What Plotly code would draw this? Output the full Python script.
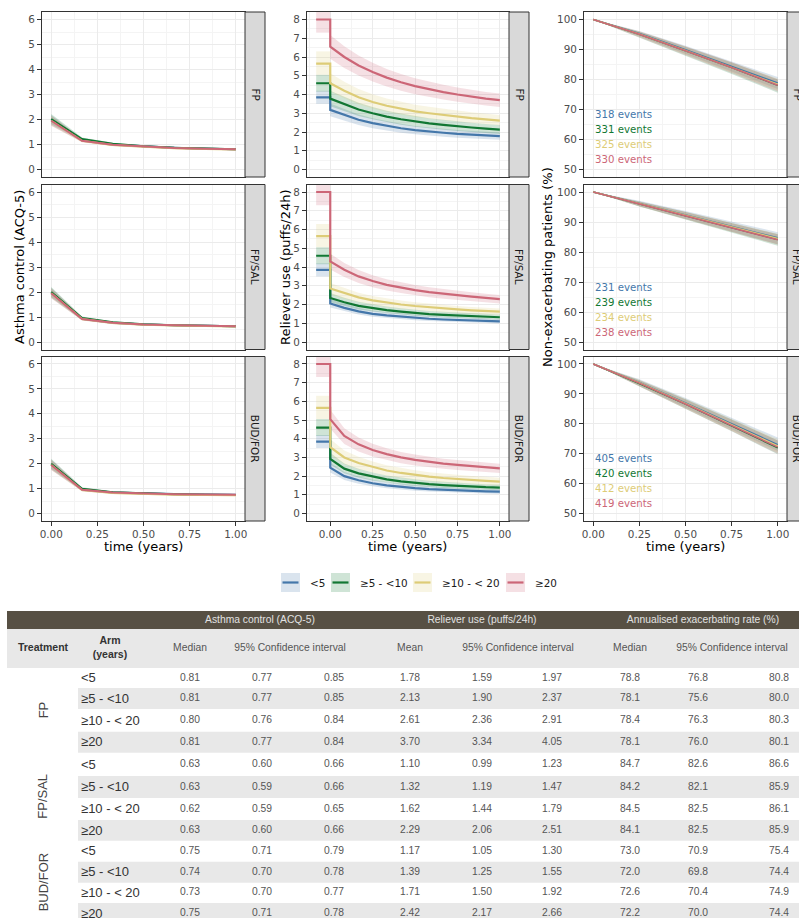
import plotly.graph_objects as go

W, H = 799, 918

# ---------------- data ----------------
groups = ["<5", "≥5 - <10", "≥10 - < 20", "≥20"]
colors = ["#4477AA", "#117733", "#DDCC77", "#CC6677"]
treatments = ["FP", "FP/SAL", "BUD/FOR"]

# Asthma control (ACQ-5)
acq_time = [0.0, 0.167, 0.333, 0.5, 0.667, 0.833, 1.0]
acq_FP = [[1.98, 1.17, 1.00, 0.92, 0.87, 0.83, 0.81],
          [2.02, 1.22, 1.03, 0.93, 0.87, 0.84, 0.81],
          [1.95, 1.15, 0.98, 0.90, 0.85, 0.82, 0.80],
          [1.95, 1.15, 0.99, 0.91, 0.86, 0.83, 0.81]]
acq_FPSAL = [[1.97, 0.93, 0.77, 0.70, 0.67, 0.65, 0.63],
             [2.00, 0.96, 0.79, 0.71, 0.67, 0.65, 0.63],
             [1.95, 0.92, 0.76, 0.69, 0.66, 0.64, 0.62],
             [1.95, 0.92, 0.77, 0.70, 0.67, 0.65, 0.63]]
acq_BUDFOR = [[1.97, 0.96, 0.84, 0.80, 0.78, 0.76, 0.75],
              [2.00, 0.99, 0.85, 0.80, 0.77, 0.75, 0.74],
              [1.95, 0.94, 0.82, 0.78, 0.75, 0.74, 0.73],
              [1.95, 0.95, 0.84, 0.79, 0.77, 0.76, 0.75]]
acq_ci_halfwidth = [0.20, 0.06, 0.045, 0.04, 0.04, 0.04, 0.04]

# Reliever use (puffs/24h)
rel_baseline_time = [-0.083, 0.0]
rel_baseline = [3.85, 4.6, 5.65, 8.0]
rel_baseline_lo = [3.5, 4.15, 5.05, 7.3]
rel_baseline_hi = [4.2, 5.05, 6.3, 8.7]
rel_time = [0.0, 0.083, 0.167, 0.25, 0.333, 0.417, 0.5, 0.583, 0.667, 0.75, 0.833, 0.917, 1.0]
rel_FP = [[3.18, 2.90, 2.65, 2.47, 2.33, 2.20, 2.10, 2.02, 1.96, 1.90, 1.85, 1.81, 1.78],
          [3.78, 3.50, 3.20, 3.00, 2.82, 2.68, 2.56, 2.46, 2.38, 2.30, 2.24, 2.18, 2.13],
          [4.60, 4.20, 3.85, 3.60, 3.40, 3.25, 3.10, 3.00, 2.90, 2.82, 2.74, 2.67, 2.61],
          [6.55, 6.00, 5.55, 5.20, 4.90, 4.65, 4.45, 4.28, 4.13, 4.00, 3.88, 3.78, 3.70]]
rel_FPSAL = [[2.05, 1.82, 1.63, 1.50, 1.42, 1.35, 1.29, 1.24, 1.20, 1.17, 1.14, 1.12, 1.10],
             [2.35, 2.12, 1.93, 1.80, 1.70, 1.62, 1.55, 1.49, 1.45, 1.41, 1.38, 1.35, 1.32],
             [2.85, 2.60, 2.38, 2.22, 2.10, 2.00, 1.92, 1.85, 1.79, 1.74, 1.69, 1.65, 1.62],
             [4.30, 3.85, 3.50, 3.25, 3.05, 2.90, 2.77, 2.66, 2.57, 2.49, 2.42, 2.35, 2.29]]
rel_BUDFOR = [[2.45, 2.00, 1.78, 1.62, 1.51, 1.42, 1.36, 1.31, 1.27, 1.24, 1.21, 1.19, 1.17],
              [2.92, 2.40, 2.15, 1.97, 1.83, 1.72, 1.64, 1.57, 1.52, 1.47, 1.44, 1.41, 1.39],
              [3.55, 3.00, 2.70, 2.48, 2.30, 2.17, 2.06, 1.97, 1.90, 1.84, 1.79, 1.75, 1.71],
              [5.05, 4.15, 3.70, 3.40, 3.18, 3.00, 2.87, 2.76, 2.67, 2.60, 2.53, 2.47, 2.42]]

# Non-exacerbating patients (%)
surv_time = [0.0, 0.25, 0.5, 0.75, 1.0]
surv_FP = [[100, 95.3, 89.9, 84.4, 78.8],
           [100, 95.1, 89.6, 84.0, 78.1],
           [100, 95.2, 89.7, 84.1, 78.4],
           [100, 95.1, 89.6, 84.0, 78.1]]
surv_FPSAL = [[100, 96.2, 92.4, 88.5, 84.7],
              [100, 96.1, 92.2, 88.2, 84.2],
              [100, 96.1, 92.3, 88.4, 84.5],
              [100, 96.0, 92.1, 88.1, 84.1]]
surv_BUDFOR = [[100, 93.8, 87.0, 80.0, 73.0],
               [100, 93.5, 86.6, 79.4, 72.0],
               [100, 93.7, 86.8, 79.7, 72.6],
               [100, 93.6, 86.6, 79.5, 72.2]]
surv_ci_growth = [0.0, 0.45, 0.68, 0.86, 1.0]
events_FP = [318, 331, 325, 330]
events_FPSAL = [231, 239, 234, 238]
events_BUDFOR = [405, 420, 412, 419]
events_y = [68.3, 63.3, 58.3, 53.3]

# Table values (rows: FP x4, FP/SAL x4, BUD/FOR x4)
tbl_arm = groups * 3
acq_med = [0.81, 0.81, 0.80, 0.81, 0.63, 0.63, 0.62, 0.63, 0.75, 0.74, 0.73, 0.75]
acq_lo = [0.77, 0.77, 0.76, 0.77, 0.60, 0.59, 0.59, 0.60, 0.71, 0.70, 0.70, 0.71]
acq_hi = [0.85, 0.85, 0.84, 0.84, 0.66, 0.66, 0.65, 0.66, 0.79, 0.78, 0.77, 0.78]
rel_mean = [1.78, 2.13, 2.61, 3.70, 1.10, 1.32, 1.62, 2.29, 1.17, 1.39, 1.71, 2.42]
rel_lo = [1.59, 1.90, 2.36, 3.34, 0.99, 1.19, 1.44, 2.06, 1.05, 1.25, 1.50, 2.17]
rel_hi = [1.97, 2.37, 2.91, 4.05, 1.23, 1.47, 1.79, 2.51, 1.30, 1.55, 1.92, 2.66]
exa_med = [78.8, 78.1, 78.4, 78.1, 84.7, 84.2, 84.5, 84.1, 73.0, 72.0, 72.6, 72.2]
exa_lo = [76.8, 75.6, 76.3, 76.0, 82.6, 82.1, 82.5, 82.5, 70.9, 69.8, 70.4, 70.0]
exa_hi = [80.8, 80.0, 80.3, 80.1, 86.6, 85.9, 86.1, 85.9, 75.4, 74.4, 74.9, 74.4]
group_headers = ["Asthma control (ACQ-5)", "Reliever use (puffs/24h)", "Annualised exacerbating rate (%)"]
sub_headers = ["Median", "95% Confidence interval", "Mean", "95% Confidence interval",
               "Median", "95% Confidence interval"]

acq_data = [acq_FP, acq_FPSAL, acq_BUDFOR]
rel_data = [rel_FP, rel_FPSAL, rel_BUDFOR]
surv_data = [surv_FP, surv_FPSAL, surv_BUDFOR]
events_data = [events_FP, events_FPSAL, events_BUDFOR]

# ---------------- layout helpers ----------------
def px(x):
    return x / W

def py(y):
    return 1 - y / H

def rgba(hx, a):
    hx = hx.lstrip("#")
    r, g, b = int(hx[0:2], 16), int(hx[2:4], 16), int(hx[4:6], 16)
    return f"rgba({r},{g},{b},{a})"

col_x = [(42, 245), (307, 509), (584, 787)]
row_y = [(12, 177), (184.5, 349.5), (356.5, 521)]
strip_w = 20

FONT = "DejaVu Sans"
TICK = dict(family=FONT, size=10.4, color="#4D4D4D")

fig = go.Figure()

def axname(i):
    return ("x" if i == 1 else f"x{i}"), ("y" if i == 1 else f"y{i}")

ribbon_traces = []
line_traces = []

for r in range(3):
    # ---- ACQ ----
    xa, ya = axname(r * 3 + 1)
    for g in range(4):
        v = acq_data[r][g]
        lo = [a - h for a, h in zip(v, acq_ci_halfwidth)]
        hi = [a + h for a, h in zip(v, acq_ci_halfwidth)]
        ribbon_traces.append(go.Scatter(x=acq_time + acq_time[::-1], y=hi + lo[::-1], fill="toself",
                                        fillcolor=rgba(colors[g], 0.2), line=dict(width=0),
                                        mode="lines", hoverinfo="skip", showlegend=False, xaxis=xa, yaxis=ya))
        line_traces.append(go.Scatter(x=acq_time, y=v, mode="lines", line=dict(color=colors[g], width=2),
                                      showlegend=False, xaxis=xa, yaxis=ya, name=groups[g]))
    # ---- Reliever ----
    xa, ya = axname(r * 3 + 2)
    for g in range(4):
        idx = r * 4 + g
        v = rel_data[r][g]
        flo = rel_lo[idx] / rel_mean[idx]
        fhi = rel_hi[idx] / rel_mean[idx]
        lo = [a * flo for a in v]
        hi = [a * fhi for a in v]
        bx = rel_baseline_time
        ribbon_traces.append(go.Scatter(x=[bx[0], bx[1], bx[1], bx[0]],
                                        y=[rel_baseline_lo[g], rel_baseline_lo[g], rel_baseline_hi[g], rel_baseline_hi[g]],
                                        fill="toself", fillcolor=rgba(colors[g], 0.2), line=dict(width=0),
                                        mode="lines", hoverinfo="skip", showlegend=False, xaxis=xa, yaxis=ya))
        ribbon_traces.append(go.Scatter(x=rel_time + rel_time[::-1], y=hi + lo[::-1], fill="toself",
                                        fillcolor=rgba(colors[g], 0.2), line=dict(width=0),
                                        mode="lines", hoverinfo="skip", showlegend=False, xaxis=xa, yaxis=ya))
        line_traces.append(go.Scatter(x=bx + rel_time, y=[rel_baseline[g], rel_baseline[g]] + v, mode="lines",
                                      line=dict(color=colors[g], width=2.2), showlegend=False,
                                      xaxis=xa, yaxis=ya, name=groups[g]))
    # ---- Survival ----
    xa, ya = axname(r * 3 + 3)
    for g in range(4):
        idx = r * 4 + g
        v = surv_data[r][g]
        lo = [a - k * (exa_med[idx] - exa_lo[idx]) for a, k in zip(v, surv_ci_growth)]
        hi = [a + k * (exa_hi[idx] - exa_med[idx]) for a, k in zip(v, surv_ci_growth)]
        ribbon_traces.append(go.Scatter(x=surv_time + surv_time[::-1], y=hi + lo[::-1], fill="toself",
                                        fillcolor=rgba(colors[g], 0.2), line=dict(width=0),
                                        mode="lines", hoverinfo="skip", showlegend=False, xaxis=xa, yaxis=ya))
        line_traces.append(go.Scatter(x=surv_time, y=v, mode="lines", line=dict(color=colors[g], width=1.6),
                                      showlegend=False, xaxis=xa, yaxis=ya, name=groups[g]))

for t in ribbon_traces + line_traces:
    fig.add_trace(t)

# ---------------- axes ----------------
y_ranges = [[-0.3, 6.3], [-0.4, 8.4], [47.5, 102.5]]
y_dticks = [1, 1, 10]
y_minor = [0.5, 0.5, 5]
x_ranges = [[-0.05, 1.05], [-0.137, 1.054], [-0.05, 1.05]]

shapes = []
annotations = []
layout_axes = {}
for r in range(3):
    for c in range(3):
        i = r * 3 + c + 1
        key = "" if i == 1 else str(i)
        x0, x1 = col_x[c]
        y0, y1 = row_y[r]
        bottom = r == 2
        layout_axes["xaxis" + key] = dict(
            domain=[px(x0), px(x1)], range=x_ranges[c], anchor="y" + key,
            tick0=0, dtick=0.25, tickformat=".2f", showticklabels=bottom,
            ticks="outside" if bottom else "", ticklen=4, tickcolor="#333333", tickwidth=1,
            tickfont=TICK, showline=True, linecolor="#333333", linewidth=1, mirror=True,
            showgrid=True, gridcolor="#EBEBEB", gridwidth=1, zeroline=False, automargin=False,
            minor=dict(dtick=0.125, tick0=0, showgrid=True, gridcolor="#F4F4F4", gridwidth=0.6, ticks=""),
            fixedrange=True)
        layout_axes["yaxis" + key] = dict(
            domain=[py(y1), py(y0)], range=y_ranges[c], anchor="x" + key,
            tick0=0, dtick=y_dticks[c], ticks="outside", ticklen=4, tickcolor="#333333", tickwidth=1,
            tickfont=TICK, showline=True, linecolor="#333333", linewidth=1, mirror=True,
            showgrid=True, gridcolor="#EBEBEB", gridwidth=1, zeroline=False, automargin=False,
            minor=dict(dtick=y_minor[c], tick0=0, showgrid=True, gridcolor="#F4F4F4", gridwidth=0.6, ticks=""),
            fixedrange=True)
        # facet strip
        shapes.append(dict(type="rect", xref="paper", yref="paper", x0=px(x1), x1=px(x1 + strip_w),
                           y0=py(y1), y1=py(y0), fillcolor="#D9D9D9", line=dict(color="#333333", width=1),
                           layer="above"))
        annotations.append(dict(xref="paper", yref="paper", x=px(x1 + strip_w / 2), y=py((y0 + y1) / 2),
                                xanchor="center", yanchor="middle",
                                text=treatments[r], textangle=90, showarrow=False,
                                font=dict(family=FONT, size=10.4, color="#1A1A1A")))
    # events labels
    xa, ya = axname(r * 3 + 3)
    for g in range(4):
        annotations.append(dict(xref=xa, yref=ya, x=0, y=events_y[g], xanchor="left", yanchor="middle",
                                text=f"{events_data[r][g]} events", showarrow=False,
                                font=dict(family=FONT, size=10.2, color=colors[g])))

# axis titles
ytitles = ["Asthma control (ACQ-5)", "Reliever use (puffs/24h)", "Non-exacerbating patients (%)"]
ytitle_x = [19, 285, 547]
ymid = (row_y[1][0] + row_y[1][1]) / 2
for c in range(3):
    annotations.append(dict(xref="paper", yref="paper", x=px(ytitle_x[c]), y=py(ymid), text=ytitles[c],
                            xanchor="center", yanchor="middle",
                            textangle=-90, showarrow=False, font=dict(family=FONT, size=13, color="#000000")))
    annotations.append(dict(xref="paper", yref="paper", x=px((col_x[c][0] + col_x[c][1]) / 2), y=py(546),
                            xanchor="center", yanchor="middle",
                            text="time (years)", showarrow=False, font=dict(family=FONT, size=13, color="#000000")))

# legend (manual guide)
leg_key_x = [281, 331, 413, 506]
leg_y0, leg_y1 = 573, 592
for g in range(4):
    kx = leg_key_x[g]
    shapes.append(dict(type="rect", xref="paper", yref="paper", x0=px(kx), x1=px(kx + 19), y0=py(leg_y1),
                       y1=py(leg_y0), fillcolor=rgba(colors[g], 0.2), line=dict(width=0)))
    shapes.append(dict(type="line", xref="paper", yref="paper", x0=px(kx + 1.5), x1=px(kx + 17.5),
                       y0=py((leg_y0 + leg_y1) / 2), y1=py((leg_y0 + leg_y1) / 2),
                       line=dict(color=colors[g], width=2.2)))
    annotations.append(dict(xref="paper", yref="paper", x=px(kx + 27), y=py((leg_y0 + leg_y1) / 2),
                            xanchor="left", yanchor="middle", text=groups[g], showarrow=False,
                            font=dict(family=FONT, size=10.4, color="#1A1A1A")))

# ---------------- table (drawn on its own pixel-unit axes) ----------------
TFONT = "Liberation Sans, Arial"
dark = "#575044"
band = "#E8E8E8"
tbl_left, tbl_right = 7, 812
arm_left = 78
dark_top, dark_h = 611, 18
sub_top, sub_h = 629, 39
body_top = 668
body_row_h = [20, 21, 22.7, 21, 23.3, 22, 22, 20.7, 21, 21, 20.3, 21]
body_centers = []
acc = body_top
for h in body_row_h:
    body_centers.append(acc + h / 2)
    acc += h

# column centres (pixels)
treat_x = 43
arm_hdr_x = 110
arm_txt_x = 81
value_cols_x = [190, 262, 334, 410, 482, 552, 630, 698, 779]
group_hdr_x = [260, 482, 703]
sub_hdr_x = [190, 290, 410, 518, 630, 732]

# bands: dark header, sub header, grey alternate rows
band_y = [dark_top + dark_h / 2, sub_top + sub_h / 2]
band_base = [tbl_left, tbl_left]
band_len = [tbl_right - tbl_left, tbl_right - tbl_left]
band_w = [dark_h, sub_h]
band_col = [dark, band]
for k in range(12):
    if k % 2 == 1:
        band_y.append(body_centers[k])
        band_base.append(arm_left)
        band_len.append(tbl_right - arm_left)
        band_w.append(body_row_h[k])
        band_col.append(band)
fig.add_trace(go.Bar(orientation="h", y=band_y, x=band_len, base=band_base, width=band_w,
                     marker=dict(color=band_col, line=dict(width=0)), hoverinfo="skip",
                     showlegend=False, xaxis="x10", yaxis="y10"))

tx, ty, tt, tsize, tcol, tpos = [], [], [], [], [], []

def add_text(x, y, t, size, color, pos="middle center"):
    tx.append(x); ty.append(y); tt.append(t); tsize.append(size); tcol.append(color); tpos.append(pos)

for k in range(3):
    add_text(group_hdr_x[k], dark_top + dark_h / 2, group_headers[k], 10.3, "#E2E2E2")
sub_mid = sub_top + sub_h / 2
add_text(treat_x, sub_mid, "<b>Treatment</b>", 10.5, "#333333")
add_text(arm_hdr_x, sub_mid, "<b>Arm</b><br><b>(years)</b>", 10.5, "#333333")
for k in range(6):
    add_text(sub_hdr_x[k], sub_mid, sub_headers[k], 10.3, "#555555")

value_cols = [[f"{v:.2f}" for v in acq_med], [f"{v:.2f}" for v in acq_lo], [f"{v:.2f}" for v in acq_hi],
              [f"{v:.2f}" for v in rel_mean], [f"{v:.2f}" for v in rel_lo], [f"{v:.2f}" for v in rel_hi],
              [f"{v:.1f}" for v in exa_med], [f"{v:.1f}" for v in exa_lo], [f"{v:.1f}" for v in exa_hi]]
for k in range(12):
    add_text(arm_txt_x, body_centers[k] + 1, tbl_arm[k], 13, "#333333", "middle right")
    for c in range(9):
        add_text(value_cols_x[c], body_centers[k], value_cols[c][k], 10.3, "#555555")

fig.add_trace(go.Scatter(x=tx, y=ty, text=tt, mode="text", textposition=tpos,
                         textfont=dict(family=TFONT, size=tsize, color=tcol), hoverinfo="skip",
                         showlegend=False, cliponaxis=False, xaxis="x10", yaxis="y10"))

# rotated treatment labels
for r in range(3):
    top_edge = body_centers[r * 4] - body_row_h[r * 4] / 2
    bot_edge = body_centers[r * 4 + 3] + body_row_h[r * 4 + 3] / 2
    annotations.append(dict(xref="x10", yref="y10", x=treat_x, y=(top_edge + bot_edge) / 2,
                            xanchor="center", yanchor="middle", text=treatments[r], textangle=-90,
                            showarrow=False, font=dict(family=TFONT, size=13, color="#444444")))

layout_axes["xaxis10"] = dict(domain=[0, 1], range=[0, W], anchor="y10", visible=False, fixedrange=True)
layout_axes["yaxis10"] = dict(domain=[0, py(dark_top)], range=[H, dark_top], anchor="x10", visible=False,
                              fixedrange=True)

fig.update_layout(
    width=W, height=H, margin=dict(l=0, r=0, t=0, b=0),
    paper_bgcolor="#FFFFFF", plot_bgcolor="#FFFFFF", barmode="overlay",
    showlegend=False, shapes=shapes, annotations=annotations, **layout_axes)

fig.write_html("out.html", config={"displayModeBar": False},
               post_script="document.body.style.margin='0px';")
